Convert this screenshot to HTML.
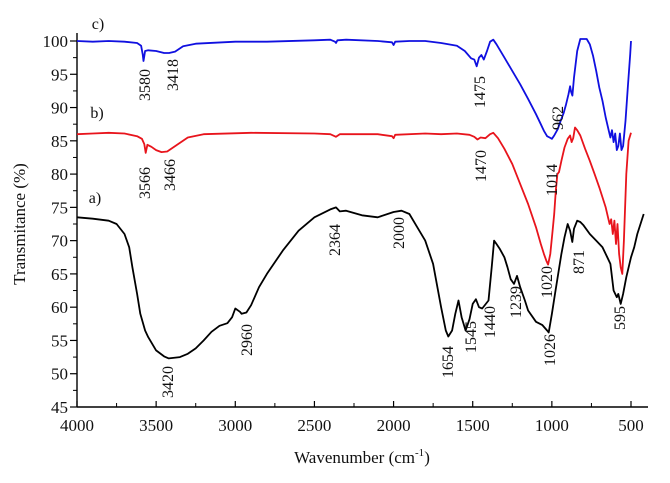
<!DOCTYPE html>
<html><head><meta charset="utf-8"><style>
html,body{margin:0;padding:0;background:#fff;}
svg{display:block;font-family:"Liberation Serif",serif;}
</style></head><body>
<svg id="chart" width="670" height="483" viewBox="0 0 670 483" xmlns="http://www.w3.org/2000/svg"></svg>
<script>
const xTicks=[4000,3500,3000,2500,2000,1500,1000,500];
const yTicks=[45,50,55,60,65,70,75,80,85,90,95,100];
const seriesA_wn=[4000,3900,3800,3750,3700,3670,3650,3620,3600,3570,3550,3500,3450,3420,3350,3300,3250,3200,3150,3100,3050,3020,3000,2970,2960,2930,2900,2850,2800,2700,2600,2500,2400,2364,2340,2300,2200,2100,2000,1950,1900,1850,1800,1750,1700,1670,1654,1630,1610,1590,1570,1545,1520,1500,1480,1460,1440,1400,1380,1365,1350,1330,1300,1280,1260,1239,1220,1200,1170,1150,1100,1060,1030,1020,1000,980,960,940,920,900,885,871,860,840,820,800,760,720,680,650,630,610,600,590,580,565,550,530,500,480,460,440,420];
const seriesA_t=[73.5,73.3,73,72.5,71,69,66,62,59,56.5,55.5,53.5,52.6,52.3,52.5,53,53.8,55,56.3,57.2,57.6,58.5,59.8,59.3,59,59.2,60.3,63,65,68.5,71.5,73.5,74.7,75,74.4,74.5,73.8,73.5,74.3,74.5,74,72,70,66.5,60,56.5,55.6,56.5,59,61,58.5,56.5,58.2,60.5,61.2,60,59.8,61,66,70,69.5,68.8,67.5,66,64.2,63.5,64.7,63,61,59.5,57.8,57.3,56.5,56.2,59,62,65,68,70.5,72.5,71.5,69.8,71.8,73,72.8,72.3,71,70,69,67.5,66.5,62.5,62,61.5,62,60.5,62,64.5,67.5,69,71,72.5,74];
const seriesB_wn=[4000,3900,3800,3700,3620,3590,3575,3566,3555,3530,3500,3466,3430,3380,3300,3200,2900,2500,2400,2364,2340,2100,2010,2000,1990,1800,1700,1600,1520,1490,1470,1450,1420,1390,1370,1340,1300,1250,1200,1150,1100,1070,1050,1035,1024,1010,995,985,975,965,955,940,920,900,885,875,865,854,840,820,790,760,730,700,680,660,645,635,625,615,605,595,585,575,565,555,545,530,515,500];
const seriesB_t=[86,86.1,86.2,86.1,85.7,85.3,84.5,83.2,84.4,84.1,83.6,83.3,83.4,84.2,85.5,86,86.2,86.1,86,85.6,86,86,85.7,85.4,85.9,86.1,86,86.1,85.9,85.6,85.2,85.5,85.4,86,86.2,85.4,83.8,81.5,78.5,75.5,72,69.5,68,67,66.4,68,71.5,74,77.5,80,80.3,82,84,85.3,85.8,84.8,85.4,87,86.6,85.8,83.8,82,80,78,76.5,75,73.5,72.5,73.2,71,73,69.5,72.5,68,66,65,70,80,85,86.2];
const seriesC_wn=[4000,3900,3800,3700,3620,3595,3585,3580,3570,3550,3500,3450,3418,3380,3330,3250,3000,2800,2500,2400,2370,2364,2355,2300,2100,2010,2000,1990,1900,1800,1700,1600,1550,1510,1490,1475,1460,1445,1430,1410,1390,1370,1350,1300,1250,1200,1150,1100,1070,1050,1030,1014,1000,985,962,945,925,910,895,885,878,870,860,840,820,800,780,760,740,720,700,680,660,640,630,620,610,600,590,580,570,560,550,535,520,505,500];
const seriesC_t=[100,99.9,100,99.9,99.7,99.3,98,97,98.5,98.6,98.5,98.2,98.2,98.4,99.2,99.6,99.9,99.9,100.1,100.2,99.9,99.7,100.1,100.2,100,99.8,99.4,99.9,100,100,99.7,99.3,98.5,97.4,97.2,96.2,97.5,97.9,97.2,98.5,99.9,100.2,99.5,97.5,95.5,93.5,91.3,89,87.5,86.5,85.7,85.5,85.3,85.8,86.8,88,89.2,90.5,92,93.2,92.3,91.8,94.5,98.5,100.3,100.3,100.3,99.5,97.8,95.5,93,91,88.5,86.5,85.5,86.6,84.8,86.1,83.6,84.2,86.1,83.6,84.2,88,93,98,100];

const NS="http://www.w3.org/2000/svg";
const svg=document.getElementById('chart');
const X0=77,X1=631,W0=4000,W1=500,Y0=407,Y1=41,T0=45,T1=100;
function xs(w){return X0+(W0-w)*(X1-X0)/(W0-W1);}
function ys(t){return Y0-(t-T0)*(Y0-Y1)/(T1-T0);}
function mk(tag,attrs,parent){const e=document.createElementNS(NS,tag);for(const k in attrs)e.setAttribute(k,attrs[k]);(parent||svg).appendChild(e);return e;}

const yAxis=mk('line',{x1:X0,y1:Y0,x2:X0,y2:Y1-8,stroke:'#000','stroke-width':1.4});


const xAxis=mk('line',{x1:X0,y1:Y0,x2:648,y2:Y0,stroke:'#000','stroke-width':1.4});



yTicks.forEach(function(t){
  const y=ys(t);
  mk('line',{x1:X0-7,y1:y,x2:X0,y2:y,stroke:'#000','stroke-width':1.2});
  if(t<100){mk('line',{x1:X0-4,y1:ys(t+2.5),x2:X0,y2:ys(t+2.5),stroke:'#000','stroke-width':1});}
  const tx=mk('text',{x:X0-9,y:y+6,'text-anchor':'end','font-size':17,fill:'#111'});
  tx.textContent=t;
  
  
});
xTicks.forEach(function(w){
  const x=xs(w);
  mk('line',{x1:x,y1:Y0,x2:x,y2:Y0-6,stroke:'#000','stroke-width':1.2});
  const m=xs(w-250);if(m<647)mk('line',{x1:m,y1:Y0,x2:m,y2:Y0-4,stroke:'#000','stroke-width':1});
  const tx=mk('text',{x:x,y:Y0+24,'text-anchor':'middle','font-size':17,fill:'#111'});
  tx.textContent=w;
  
  
});

const xt=mk('text',{x:362,y:463,'text-anchor':'middle','font-size':17,fill:'#111'});
xt.innerHTML='Wavenumber (cm<tspan dy="-7" font-size="11">-1</tspan><tspan dy="7">)</tspan>';


const yt=mk('text',{x:0,y:0,'text-anchor':'middle','font-size':17,fill:'#111',transform:'translate(25,224) rotate(-90)'});
yt.textContent='Transmitance (%)';



function drawSeries(wn,t,color,name){
  let d='';
  for(let i=0;i<wn.length;i++){d+=(i?'L':'M')+xs(wn[i]).toFixed(1)+','+ys(t[i]).toFixed(1);}
  const p=mk('path',{d:d,fill:'none',stroke:color,'stroke-width':1.8,'stroke-linejoin':'round'});
  
  
}
drawSeries(seriesA_wn,seriesA_t,'#000','series-a-line');
drawSeries(seriesB_wn,seriesB_t,'#e8141c','series-b-line');
drawSeries(seriesC_wn,seriesC_t,'#1010e0','series-c-line');

const tags=[['a)',95,203],['b)',97,118],['c)',98,29]];
tags.forEach(function(s){
  const tx=mk('text',{x:s[1],y:s[2],'text-anchor':'middle','font-size':16,fill:'#111'});
  tx.textContent=s[0];
  
  
});
const peaks=[['3580',145,85],['3418',173,75],['3566',145,183],['3466',170,175],['3420',168,382],['2960',247,340],['2364',335,240],['2000',399,233],['1475',480,92],['1470',481,166],['962',558,118],['1014',552,180],['1020',547,282],['871',579,262],['1654',448,362],['1545',471,337],['1440',490,322],['1239',516,302],['1026',550,350],['595',620,318]];
peaks.forEach(function(p){
  const tx=mk('text',{x:0,y:0,'text-anchor':'middle','font-size':16,fill:'#111',transform:'translate('+(p[1]+5)+','+p[2]+') rotate(-90)'});
  tx.textContent=p[0];
  
  
});
</script>
</body></html>
